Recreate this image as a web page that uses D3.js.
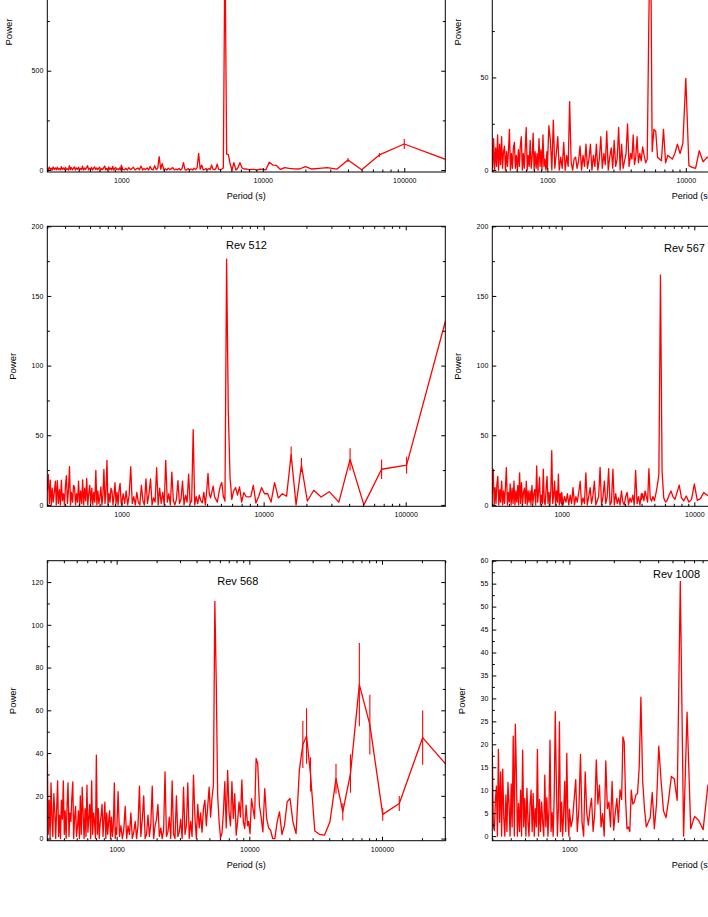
<!DOCTYPE html>
<html>
<head>
<meta charset="utf-8">
<script src="https://cdn.jsdelivr.net/npm/d3@7"></script>
<style>
body { margin: 0; background: #fff; }
svg { display: block; font-family: "Liberation Sans", Arial, sans-serif; }
</style>
</head>
<body>
<div id="chart"></div>
<script>
"use strict";

// periods (s) of the short-period part, shared by every panel
var periodGrid = [
    300, 305, 310, 315, 320, 325, 330, 336, 342, 347,
    353, 359, 365, 371, 377, 383, 390, 396, 403, 409,
    416, 423, 430, 437, 444, 452, 459, 467, 474, 482,
    490, 498, 507, 515, 524, 532, 541, 550, 559, 568,
    578, 587, 597, 607, 617, 627, 637, 648, 659, 670,
    681, 692, 703, 715, 727, 739, 751, 764, 776, 789,
    802, 815, 829, 842, 856, 870, 885, 899, 914, 929,
    945, 960, 976, 992,
    1000, 1025, 1051, 1077, 1104, 1131, 1160, 1189, 1218, 1249,
    1280, 1312, 1345, 1379, 1413, 1448, 1485, 1522, 1560, 1599,
    1639, 1680, 1722, 1765, 1809, 1854, 1900, 1948, 1997, 2046,
    2098, 2150, 2204, 2259, 2315, 2373, 2433, 2493, 2556, 2620,
    2685, 2752, 2821, 2892, 2964, 3038, 3114, 3192, 3272, 3353,
    3437, 3523, 3611, 3701, 3794, 3889, 3986, 4086, 4188, 4292,
    4400, 4510, 4622, 4738, 4856, 4978, 5103, 5230, 5361, 5495,
    5633, 5773, 5918, 6066, 6217, 6373, 6532, 6695, 6863, 7034,
    7210, 7391, 7575, 7765, 7959, 8158, 8362, 8571, 8786, 9005,
    9230, 9461, 9698, 9940
];

var xLabelTicks = [1000, 10000, 100000];

// top left panel
var revA_dense = [
    12, 1, 15, 2, 9, 0, 16, 3, 11, 1,
    14, 2, 8, 0, 17, 3, 10, 1, 13, 2,
    7, 0, 22, 2, 12, 1, 9, 15, 0, 11,
    3, 14, 1, 8, 2, 19, 0, 10, 3, 12,
    22, 1, 9, 2, 13, 0, 8, 16, 2, 11,
    1, 9, 14, 0, 7, 2, 12, 20, 1, 8,
    0, 15, 2, 10, 1, 18, 0, 9, 13, 2,
    7, 1, 11, 0, 25, 3, 1, 9, 0, 12,
    2, 7, 14, 0, 6, 10, 1, 20, 0, 8,
    2, 11, 0, 18, 3, 1, 22, 2, 9, 67,
    4, 33, 1, 6, 0, 9, 2, 7, 12, 0,
    5, 1, 8, 0, 6, 37, 2, 0, 7, 1,
    5, 0, 9, 2, 12, 84, 4, 25, 1, 3, 8
];
var revA_tail = [
    [4000, 5], [4082, 3], [4167, 8], [4255, 2], [4348, 25], [4444, 4], [4545, 2], [4651, 6],
    [4762, 30], [4878, 3], [5000, 2], [5128, 5], [5263, 10], [5405, 1150], [5556, 80], [5714, 78],
    [5882, 30], [6061, 0], [6250, 37], [6452, 0], [6667, 10], [6897, 37], [7143, 10], [7407, 5],
    [7692, 5], [8000, 2], [8333, 3], [8696, 3], [9091, 0], [9524, 4], [10000, 3], [10526, 1],
    [11111, 39], [11765, 25], [12500, 23], [13333, 3], [14286, 12], [15385, 8], [16667, 6],
    [18182, 5], [20000, 17], [22222, 5], [25000, 8], [28571, 12], [33333, 4], [40000, 50],
    [50000, 1], [66667, 76], [100000, 131], [200000, 51]
];
var revA_err = [[40000, 10], [66667, 10], [100000, 25]];

// top right panel
var revB_dense = [
    5, 0, 12, 1, 9, 0, 10, 2, 8, 13, 1, 7, 11, 0, 9, 2, 6, 14,
    1, 17, 0, 12, 2, 19, 0, 14, 3, 18, 1, 10,
    13, 0, 10, 2, 11, 22, 0, 9, 1, 12,
    15, 1, 8, 0, 11, 2, 13, 18, 0, 9,
    1, 12, 23, 0, 8, 2, 16, 1, 7, 20,
    0, 10, 1, 9, 0, 17, 2, 11, 0, 19,
    2, 6, 0, 10, 1, 24, 16, 0, 27, 1,
    9, 18, 0, 7, 1, 15, 0, 8, 2, 37,
    4, 0, 6, 7, 1, 5, 13, 0, 8, 2,
    14, 1, 6, 14, 0, 8, 2, 14, 0, 6,
    18, 1, 9, 3, 21, 0, 7, 12, 1, 16,
    2, 6, 23, 0, 14, 1, 5, 9, 25, 2
];
var revB_tail = [
    [4000, 9], [4082, 6], [4167, 19], [4255, 3], [4348, 7], [4444, 18], [4545, 4], [4651, 9],
    [4762, 5], [4878, 12.6], [5000, 8], [5128, 4], [5263, 6], [5405, 80], [5556, 140], [5714, 10],
    [5882, 22], [6061, 21], [6250, 7], [6452, 6], [6667, 5], [6897, 22], [7143, 4], [7407, 8],
    [7692, 7], [8000, 6], [8333, 9], [8696, 14], [9091, 9], [9524, 14.5], [10000, 49.5],
    [10526, 2.4], [11111, 1.5], [11765, 1], [12500, 10.5], [13333, 4.5], [14286, 7],
    [15385, 5], [16667, 8]
];
var revB_err = [];

// Rev 512
var rev512_dense = [
    10, 21.9, 1, 17.8, 0, 12, 2, 9, 17, 0,
    17.5, 1, 11, 0, 17.8, 3, 8, 0, 14, 21,
    1, 11, 27.4, 0, 9, 2, 14, 12.4, 0, 8,
    2, 17, 0, 10, 1, 18, 0, 12, 3, 19,
    0, 8, 14, 1, 12, 0, 9, 2, 24.8, 0,
    10, 1, 5, 13, 0, 7, 25.5, 1, 9, 32,
    0, 8, 2, 12, 10, 0, 7, 16, 1, 9,
    0, 11, 15.5, 2, 0, 8, 1, 10, 0, 7,
    27.4, 1, 6, 0, 9, 2, 0, 14, 3, 0,
    18.7, 1, 8, 18.7, 0, 5, 2, 26.7, 0, 12,
    1, 9, 0, 32, 2, 8, 0, 23.6, 3, 0,
    4, 17.5, 1, 4, 17, 0, 7, 2, 22, 1,
    2.7, 54, 0, 6, 1, 7, 3, 1.5, 9, 0, 12
];
var rev512_tail = [
    [4060, 22.6], [4143, 8], [4229, 5], [4319, 9], [4413, 13.5], [4511, 6], [4614, 4], [4721, 2],
    [4833, 8], [4951, 13.5], [5075, 16], [5205, 6], [5342, 2.7], [5486, 176.5], [5639, 67],
    [5800, 20], [5971, 4], [6152, 10], [6344, 12.4], [6548, 7], [6767, 13], [7000, 2], [7250, 8.8],
    [7519, 6], [7808, 5.8], [8120, 6], [8458, 14], [8826, 1.3], [9227, 6], [9667, 12.4],
    [10150, 8], [10684, 8], [11278, 2], [11941, 16], [12688, 5], [13533, 8], [14500, 6.3],
    [15615, 36], [16917, 0], [18455, 28.6], [20300, 2.8], [22556, 10.5], [25375, 5.7],
    [29000, 9.5], [33833, 2], [40600, 32.7], [50750, 0], [67667, 25.6], [101500, 28.6],
    [203000, 142.5]
];
var rev512_err = [[15615, 6], [18455, 5], [40600, 8], [67667, 7], [101500, 6]];

// Rev 567
var rev567_dense = [
    8, 25.6, 0, 12.4, 1, 15, 20.5, 0, 11, 2,
    17, 0, 10, 1, 13, 26.8, 0, 9, 2, 15,
    0, 12, 1, 17, 0, 10, 2, 14, 0, 23,
    1, 16, 0, 9, 12, 1, 17, 0, 10, 2,
    10, 0, 14, 1, 8, 11, 0, 28, 2, 9,
    20, 0, 7, 1, 25.6, 2, 0, 12, 20.5, 1,
    9, 0, 11, 39, 1, 7, 17, 0, 10, 2,
    22, 0, 8, 1, 9, 0, 6, 2, 8, 0,
    7, 1, 12.4, 0, 6, 2, 9, 17, 0, 5,
    1, 23, 0, 6, 12.4, 1, 7, 17, 0, 3,
    6, 27, 0, 5, 17, 1, 6, 26, 0, 2,
    25.6, 0, 8, 1, 5, 0, 10, 2, 0, 6,
    9, 0, 5, 2, 7, 0, 24.7, 1, 6, 0, 8
];
var rev567_tail = [
    [4000, 4], [4082, 8], [4167, 3], [4255, 10], [4348, 6], [4444, 2], [4545, 26], [4651, 5],
    [4762, 2.7], [4878, 6], [5000, 3], [5128, 8], [5263, 14], [5405, 22], [5556, 165], [5714, 24],
    [5882, 5], [6061, 2], [6250, 3.3], [6452, 7], [6667, 10], [6897, 6], [7143, 4], [7407, 9],
    [7692, 14.2], [8000, 5], [8333, 3], [8696, 6.4], [9091, 2], [9524, 4], [10000, 15],
    [10526, 3.3], [11111, 4.5], [11765, 8.8], [12500, 7], [13333, 6]
];
var rev567_err = [];

// Rev 568
var rev568_dense = [
    39.8, 2, 18, 0, 26, 10, 1, 21, 12, 0,
    14, 27, 1, 11, 0, 18, 9, 27, 2, 13,
    0, 16, 26, 1, 12, 8, 19, 26.5, 0, 10,
    15, 1, 6, 13, 0, 20, 2, 24, 11, 0,
    14, 1, 25, 3, 10, 16, 0, 27, 2, 12,
    8, 0, 39, 2, 14, 0, 7, 11, 16, 1,
    9, 17, 0, 12, 2, 8, 13, 0, 10, 1,
    7, 26, 0, 5, 2, 22, 1, 6, 0, 4,
    15, 0, 6, 2, 12, 0, 3, 8, 0, 6,
    24.5, 1, 9, 20, 0, 2, 11, 1, 7, 24.5,
    0, 6, 9, 16, 1, 5, 0, 4, 31.2, 1,
    3, 10, 0, 27, 2, 0, 20, 1, 3, 9,
    0, 24, 2, 6, 26, 0, 8, 1, 29.7, 10,
    0, 16, 5, 12, 3, 14, 18, 6, 15, 24,
    10, 19, 25, 111, 73, 20, 8, 0.3, 2.5, 12,
    26.6, 5, 31.9, 12, 6, 26.6, 9.4, 21, 1.6, 8,
    17.1, 10, 27.4, 8, 4.7, 15.6, 6
];
var rev568_tail = [
    [9878, 8], [10125, 2.3], [10385, 18.7], [10658, 14], [10946, 9.3], [11250, 37.5],
    [11571, 35], [11912, 15.6], [12273, 10], [12656, 3.1], [13065, 23.4], [13500, 9.4],
    [13966, 5], [14464, 3.9], [15000, 0], [15577, 0], [16200, 7.8], [16875, 12.5],
    [17609, 1.9], [18409, 6.2], [19286, 17.2], [20250, 18.8], [21316, 7.8], [22500, 2.3],
    [23824, 32], [25313, 44], [27000, 48], [28929, 30], [31154, 3.5], [33750, 2],
    [36818, 1.6], [40500, 7.8], [45000, 28], [50625, 12.5], [57857, 30.4], [67500, 72],
    [81000, 53.3], [101250, 11.3], [135000, 16.4], [202500, 47.2], [405000, 25.8]
];
var rev568_err = [
    [25313, 11], [27000, 13], [28929, 8], [45000, 7], [50625, 4], [57857, 9],
    [67500, 19.5], [81000, 14], [101250, 3], [135000, 3.5], [202500, 12.7]
];

// Rev 1008
var rev1008_dense = [
    18.5, 2, 1.2, 8, 10.9, 0, 18.9, 3, 14, 0,
    14.6, 4, 0, 9, 1, 11.7, 6.6, 0, 11.4, 2,
    21.8, 0, 24.4, 14, 0, 7.1, 1, 10, 0, 18.7,
    2, 8.2, 0, 10.4, 3, 0, 7, 10, 1, 9.3,
    0, 6, 2, 18.9, 0, 8, 1, 7.4, 3, 0,
    13.3, 2, 8.4, 0, 6, 20.9, 1, 5.1, 0, 9,
    27.1, 12.6, 0, 6, 24.9, 1, 7.4, 0, 5, 11.9,
    1, 18, 4, 0, 5.9, 2, 3.7, 8, 12.3, 1,
    6, 17.8, 3, 0, 14, 5, 2.4, 6, 8.2, 1,
    5, 16.6, 7, 11.1, 2, 4.9, 0, 16.4, 6, 7.4,
    2, 11.9, 1.3, 5, 8.2, 3, 10.1
];
var rev1008_tail = [
    [2260, 8], [2306, 21.6], [2354, 20.5], [2404, 8], [2457, 1.6], [2511, 2], [2568, 1],
    [2628, 10], [2690, 7], [2756, 7.4], [2825, 9], [2897, 9.3], [2974, 15], [3054, 30.3],
    [3139, 12], [3229, 6], [3324, 2], [3424, 3], [3531, 4], [3645, 9.5], [3767, 1.6],
    [3897, 7], [4036, 19.6], [4185, 12], [4346, 5.5], [4520, 4], [4708, 8], [4913, 13],
    [5136, 12.5], [5381, 7.8], [5650, 55.5], [5947, 0], [6278, 27], [6647, 1.6], [7063, 4.3],
    [7533, 3.4], [8071, 1.4], [8692, 11.1], [9417, 8]
];
var rev1008_err = [];

var yTicksA = [0, 500, 1000];
var yTicksB = [0, 50, 100, 150];
var yTicksMid = [0, 50, 100, 150, 200];
var yTicks568 = [0, 20, 40, 60, 80, 100, 120];
var yTicks1008 = [0, 5, 10, 15, 20, 25, 30, 35, 40, 45, 50, 55, 60];

var width = 708, height = 917;
var plotW = 398, plotH = 280;

var svg = d3.select("#chart").append("svg")
    .attr("width", width)
    .attr("height", height);

var panels = [
    { dense: revA_dense, tail: revA_tail, err: revA_err, xDomain: [300, 195000], yDomain: [-10, 1400],
      yTicks: yTicksA, yStep: 500, left: 47.3, top: -108, yLabelOff: 35, period: true },
    { dense: revB_dense, tail: revB_tail, err: revB_err, xDomain: [400, 300000], yDomain: [-1, 150],
      yTicks: yTicksB, yStep: 50, left: 492.3, top: -108, yLabelOff: 31.6, period: true },
    { dense: rev512_dense, tail: rev512_tail, err: rev512_err, xDomain: [300, 190000], yDomain: [-1, 200],
      yTicks: yTicksMid, yStep: 50, left: 47.3, top: 226.3, yLabelOff: 31.6, period: false,
      title: "Rev 512", titleDx: 178.7, titleDy: 22.7 },
    { dense: rev567_dense, tail: rev567_tail, err: rev567_err, xDomain: [300, 300000], yDomain: [-1, 200],
      yTicks: yTicksMid, yStep: 50, left: 492.3, top: 226.3, yLabelOff: 31, period: false,
      title: "Rev 567", titleDx: 171.7, titleDy: 26.2 },
    { dense: rev568_dense, tail: rev568_tail, err: rev568_err, xDomain: [300, 300000], yDomain: [-1, 130],
      yTicks: yTicks568, yStep: 20, left: 47.3, top: 560.7, yLabelOff: 31.6, period: true,
      title: "Rev 568", titleDx: 170, titleDy: 24.8 },
    { dense: rev1008_dense, tail: rev1008_tail, err: rev1008_err, xDomain: [300, 150000], yDomain: [-1, 60],
      yTicks: yTicks1008, yStep: 5, left: 492.3, top: 560.7, yLabelOff: 27.3, period: true,
      title: "Rev 1008", titleDx: 160.7, titleDy: 17.3 }
];

function isIn(list, d) {
    return list.some(function (m) { return Math.abs(d - m) < 1e-6 * Math.max(1, m); });
}

// tidy a d3 axis: no domain path, small font, major ticks longer
function tidyAxis(sel, isMajor, attr, major, minor) {
    sel.select(".domain").remove();
    sel.attr("font-size", 7).attr("font-family", null);
    sel.selectAll(".tick line")
        .attr("stroke", "#000")
        .attr(attr, function (d) { return isMajor(d) ? major : minor; });
    sel.selectAll(".tick text").attr("fill", "#000");
}

panels.forEach(function (p, i) {
    var g = svg.append("g")
        .attr("transform", "translate(" + p.left + "," + p.top + ")");

    var x = d3.scaleLog().domain(p.xDomain).range([0, plotW]);
    var y = d3.scaleLinear().domain(p.yDomain).range([plotH, 0]);

    g.append("clipPath").attr("id", "clip" + i)
        .append("rect").attr("width", plotW).attr("height", plotH);

    // join the dense part with the long-period harmonics
    var points = p.dense.map(function (v, j) { return [periodGrid[j], v]; })
        .concat(p.tail)
        .sort(function (a, b) { return a[0] - b[0]; });

    var line = d3.line()
        .x(function (d) { return x(d[0]); })
        .y(function (d) { return y(d[1]); });

    var plot = g.append("g").attr("clip-path", "url(#clip" + i + ")");

    plot.append("path")
        .datum(points)
        .attr("fill", "none")
        .attr("stroke", "#ff0000")
        .attr("stroke-width", 1.3)
        .attr("stroke-linejoin", "round")
        .attr("d", line);

    // error bars
    var powerAt = new Map(p.tail);
    plot.selectAll(".err")
        .data(p.err)
        .enter().append("line")
        .attr("class", "err")
        .attr("x1", function (d) { return x(d[0]); })
        .attr("x2", function (d) { return x(d[0]); })
        .attr("y1", function (d) { return y(powerAt.get(d[0]) - d[1]); })
        .attr("y2", function (d) { return y(powerAt.get(d[0]) + d[1]); })
        .attr("stroke", "#ff0000")
        .attr("stroke-width", 1.1);

    // ticks
    var xTicks = x.ticks();
    var xMajor = function (d) { return isIn(xLabelTicks, d); };
    var yMinor = p.yTicks.map(function (v) { return v + p.yStep / 2; })
        .filter(function (v) { return v < p.yDomain[1]; });
    var yAll = p.yTicks.concat(yMinor);
    var yMajor = function (d) { return isIn(p.yTicks, d); };

    g.append("g")
        .attr("transform", "translate(0," + plotH + ")")
        .call(d3.axisBottom(x).tickValues(xTicks).tickSize(-2.5).tickPadding(6)
            .tickFormat(function (d) { return xMajor(d) ? String(d) : ""; }))
        .call(tidyAxis, xMajor, "y2", -4, -2.5);

    g.append("g")
        .call(d3.axisTop(x).tickValues(xTicks).tickSize(-2.5).tickFormat(""))
        .call(tidyAxis, xMajor, "y2", 4, 2.5);

    g.append("g")
        .call(d3.axisLeft(y).tickValues(yAll).tickSize(-2.5).tickPadding(4)
            .tickFormat(function (d) { return yMajor(d) ? String(d) : ""; }))
        .call(tidyAxis, yMajor, "x2", 4, 2.5);

    g.append("g")
        .attr("transform", "translate(" + plotW + ",0)")
        .call(d3.axisRight(y).tickValues(yAll).tickSize(-2.5).tickFormat(""))
        .call(tidyAxis, yMajor, "x2", -4, -2.5);

    // frame
    g.append("rect")
        .attr("width", plotW)
        .attr("height", plotH)
        .attr("fill", "none")
        .attr("stroke", "#000")
        .attr("stroke-width", 1);

    // axis titles
    g.append("text")
        .attr("transform", "translate(" + (-p.yLabelOff) + "," + (plotH / 2) + ") rotate(-90)")
        .attr("text-anchor", "middle")
        .style("font-size", "9.5px")
        .text("Power");

    if (p.period) {
        g.append("text")
            .attr("x", plotW / 2)
            .attr("y", plotH + 27)
            .attr("text-anchor", "middle")
            .style("font-size", "9px")
            .text("Period (s)");
    }

    if (p.title) {
        g.append("text")
            .attr("x", p.titleDx)
            .attr("y", p.titleDy)
            .style("font-size", "11px")
            .text(p.title);
    }
});
</script>
</body>
</html>
